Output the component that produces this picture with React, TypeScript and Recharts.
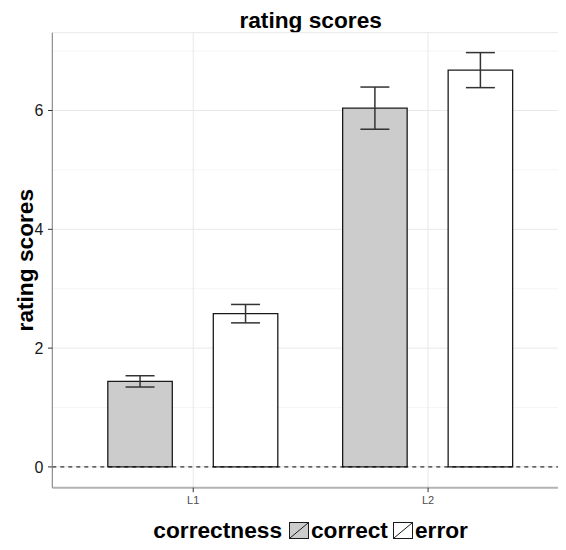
import React from "react";
import {
  BarChart,
  Bar,
  XAxis,
  YAxis,
  CartesianGrid,
  ReferenceLine,
  ErrorBar,
  Label,
} from "recharts";

const categories = ["L1", "L2"];
const correctMeans = [1.44, 6.04];
const correctErrs = [0.095, 0.355];
const errorMeans = [2.58, 6.68];
const errorErrs = [0.155, 0.295];
const yTicks = [0, 2, 4, 6];
const yMinorTicks = [1, 3, 5, 7];
const seriesNames = ["correct", "error"];
const seriesFills = ["#cccccc", "#ffffff"];

const data = categories.map((name, i) => ({
  name,
  correct: correctMeans[i],
  correctErr: correctErrs[i],
  error: errorMeans[i],
  errorErr: errorErrs[i],
}));

const FONT = "'Liberation Sans', Arial, Helvetica, sans-serif";

const Swatch = ({ fill }: { fill: string }) => (
  <svg width={20} height={17} style={{ display: "block" }}>
    <rect x={0.5} y={0.5} width={19} height={16} fill={fill} stroke="#1a1a1a" strokeWidth={1} />
    <line x1={1} y1={16} x2={19} y2={1} stroke="#1a1a1a" strokeWidth={1} />
  </svg>
);

export default function App() {
  return (
    <div
      style={{
        position: "relative",
        width: 558,
        height: 534,
        overflow: "hidden",
        fontFamily: FONT,
      }}
    >
      <div
        style={{
          position: "absolute",
          top: -1,
          left: 44.3,
          width: 516.7,
          textAlign: "center",
          fontSize: 22.7,
          fontWeight: "bold",
          lineHeight: "26px",
          color: "#000",
        }}
      >
        rating scores
      </div>
      <BarChart
        width={561}
        height={505}
        data={data}
        margin={{ top: 24.7, right: 0, bottom: 0, left: 0 }}
        barSize={64.5}
        barGap={41}
        style={{ fontFamily: FONT }}
      >
        <CartesianGrid
          horizontalValues={yMinorTicks}
          vertical={false}
          stroke="#f5f5f5"
          strokeWidth={1}
        />
        <CartesianGrid stroke="#e8e8e8" strokeWidth={1} />
        <XAxis
          dataKey="name"
          height={25.3}
          padding={{ left: 23.5, right: 23.5 }}
          axisLine={{ stroke: "#b3b3b3", strokeWidth: 2 }}
          tickLine={{ stroke: "#333333" }}
          tickSize={4.5}
          tickMargin={3.8}
          tick={{ fontSize: 11, fill: "#4d4d4d", fontFamily: FONT }}
        />
        <XAxis
          xAxisId="top"
          orientation="top"
          dataKey="name"
          height={0}
          padding={{ left: 23.5, right: 23.5 }}
          tick={false}
          tickLine={false}
          axisLine={{ stroke: "#7f7f7f", strokeWidth: 1 }}
        />
        <YAxis
          width={44.3}
          domain={[-0.35, 7.31]}
          allowDataOverflow
          ticks={yTicks}
          axisLine={{ stroke: "#7f7f7f", strokeWidth: 1 }}
          tickLine={{ stroke: "#333333" }}
          tickSize={4.3}
          tickMargin={4.7}
          tick={{ fontSize: 16, fill: "#1a1a1a", fontFamily: FONT }}
        >
          <Label
            content={(props: any) => {
              const vb = props.viewBox || {};
              const cy = (vb.y || 0) + (vb.height || 0) / 2;
              return (
                <text
                  x={17}
                  y={cy}
                  transform={`rotate(-90, 17, ${cy})`}
                  textAnchor="middle"
                  dominantBaseline="central"
                  fontSize={22.7}
                  fontWeight="bold"
                  fontFamily={FONT}
                  fill="#000"
                >
                  rating scores
                </text>
              );
            }}
          />
        </YAxis>
        <Bar
          dataKey="correct"
          fill={seriesFills[0]}
          stroke="#1a1a1a"
          strokeWidth={1.3}
          isAnimationActive={false}
        >
          <ErrorBar
            dataKey="correctErr"
            width={14.5}
            stroke="#333333"
            strokeWidth={1.5}
            isAnimationActive={false}
          />
        </Bar>
        <Bar
          dataKey="error"
          fill={seriesFills[1]}
          stroke="#1a1a1a"
          strokeWidth={1.3}
          isAnimationActive={false}
        >
          <ErrorBar
            dataKey="errorErr"
            width={14.5}
            stroke="#333333"
            strokeWidth={1.5}
            isAnimationActive={false}
          />
        </Bar>
        <ReferenceLine y={0} stroke="#000" strokeWidth={1} strokeDasharray="4 4" />
      </BarChart>
      <div
        style={{
          position: "absolute",
          top: 509,
          left: 44.3,
          width: 516.7,
          display: "flex",
          justifyContent: "center",
          alignItems: "center",
          fontSize: 22.7,
          fontWeight: "bold",
          lineHeight: "26px",
          color: "#000",
        }}
      >
        <span style={{ marginRight: 7 }}>correctness</span>
        {seriesNames.map((n, i) => (
          <React.Fragment key={n}>
            <Swatch fill={seriesFills[i]} />
            <span style={{ marginLeft: 2, marginRight: i === 0 ? 5 : 0 }}>{n}</span>
          </React.Fragment>
        ))}
      </div>
    </div>
  );
}
